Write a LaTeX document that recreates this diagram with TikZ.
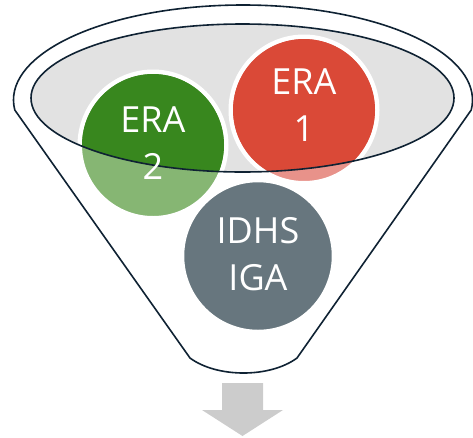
\documentclass[tikz,border=0pt]{standalone}
\usepackage{fontspec}
\setmainfont{Open Sans}
\definecolor{outl}{HTML}{0F2233}
\definecolor{mouth}{HTML}{E2E2E2}
\definecolor{grn}{HTML}{38871E}
\definecolor{grnl}{HTML}{86B673}
\definecolor{rd}{HTML}{DA4937}
\definecolor{rdl}{HTML}{E8928A}
\definecolor{gry}{HTML}{67767E}
\definecolor{arr}{HTML}{CCCCCC}
\begin{document}
\begin{tikzpicture}[x=1pt,y=1pt,
  ball/.style={circle,draw=white,line width=4.5pt,minimum size=146.5pt,inner sep=0pt},
  lbl/.style={text=white,align=center,inner sep=0pt,font=\fontsize{36}{47}\selectfont},
  rim/.style={draw=outl,line width=1.6pt}]
\useasboundingbox (0,0) rectangle (473,-437);
% funnel body
\draw[rim,fill=white] (243,-100) ++(186.04:229.5 and 95) coordinate (fl)
  arc[start angle=186.04,end angle=-6.04,x radius=229.5,y radius=95] coordinate (fr)
  -- (297,-358) coordinate (br)
  .. controls (270,-378) and (217,-378) .. (190,-358) coordinate (bl) -- cycle;
% mouth
\fill[mouth] (242.5,-98) ellipse[x radius=211.5,y radius=74];
% balls (light parts)
\node[ball,fill=grnl] (era2) at (153,-145) {};
\node[ball,fill=rdl] (era1) at (304,-110) {};
\node[ball,fill=gry,minimum size=152pt] (idhs) at (258,-256) {};
% solid parts inside the mouth
\begin{scope}
  \clip (242.5,-98) ellipse[x radius=211.5,y radius=74];
  \fill[grn] (era2.center) circle[radius=71];
  \fill[rd] (era1.center) circle[radius=71];
\end{scope}
\draw[rim] (242.5,-98) ellipse[x radius=211.5,y radius=74];
% labels
\node[lbl] (t2) at ([yshift=2pt]era2.center) {ERA\\2};
\node[lbl] (t1) at ([yshift=5pt]era1.center) {ERA\\1};
\node[lbl] (t3) at ([yshift=2pt]idhs.center) {IDHS\\IGA};
% arrow
\fill[arr] (222,-383) -- (263,-383) -- (263,-410) -- (283,-410) -- (242.5,-436)
  -- (202,-410) -- (222,-410) -- cycle;
\end{tikzpicture}
\end{document}
